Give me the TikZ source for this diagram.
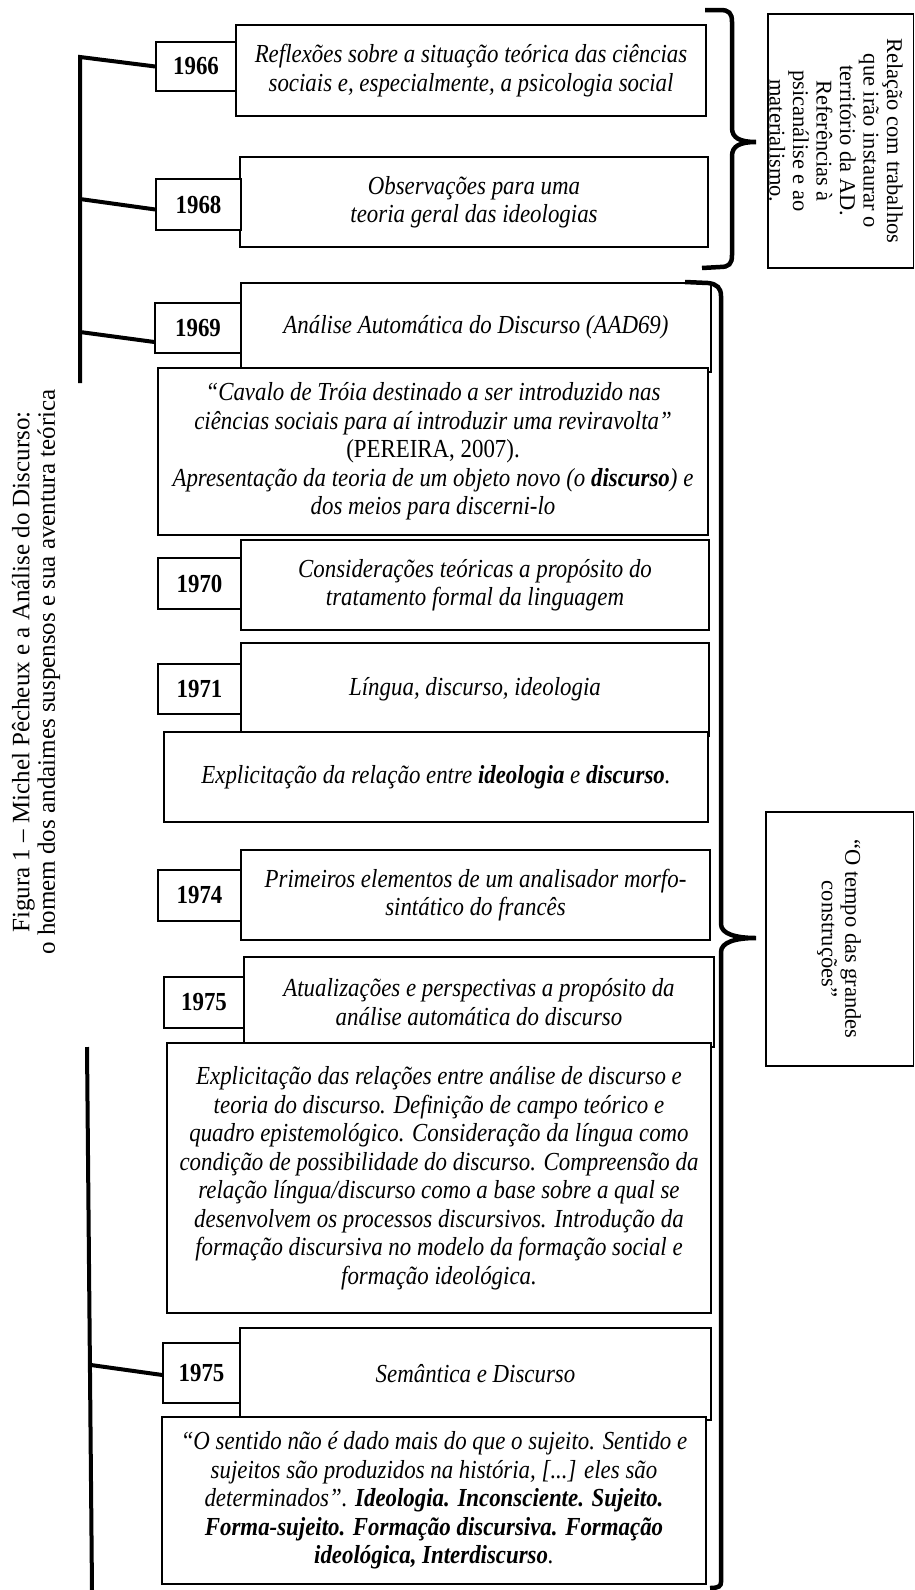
\documentclass[tikz,border=0pt]{standalone}
\usepackage{fontspec}
\setmainfont{Liberation Serif}[FakeStretch=0.88]
\newfontfamily\plainserif{Liberation Serif}
\newcommand\bx[7]{\node[#6, minimum width={(#4-#2)*1pt}, minimum height={(#5-#3)*1pt}] (#1) at ({(#2+#4)/2},{(#3+#5)/2}) {#7};}
\begin{document}
\begin{tikzpicture}[x=1pt,y=-1pt,
  descbox/.style={draw, line width=1.3pt, fill=white, inner sep=0pt, align=center, font=\fontsize{26}{28.5}\selectfont\itshape},
  yearbox/.style={draw, line width=1.3pt, fill=white, inner sep=0pt, font=\fontsize{26}{28}\selectfont\bfseries},
  sidebox/.style={draw, line width=1.3pt, fill=white, inner sep=0pt},
  sidetext/.style={rotate=-90, align=center, inner sep=0pt, font=\plainserif\fontsize{22.5}{23.5}\selectfont},
  captext/.style={rotate=90, align=center, inner sep=0pt, font=\plainserif\fontsize{25}{25.5}\selectfont},
  tline/.style={line width=4pt},
  bracepath/.style={line width=4.5pt}]
\useasboundingbox (0,0) rectangle (915,1590);

% description boxes
\bx{d66}{236}{25}{706}{116}{descbox}{Reflexões sobre a situação teórica das ciências\\sociais e, especialmente, a psicologia social}
\bx{y66}{156}{42}{236}{91}{yearbox}{1966}
\bx{d68}{240}{157}{708}{247}{descbox}{Observações para uma\\teoria geral das ideologias}
\bx{y68}{156}{179}{241}{230}{yearbox}{1968}
\bx{d69}{241}{283}{711}{372}{descbox}{Análise Automática do Discurso (AAD69)}
\bx{y69}{155}{303}{241}{353}{yearbox}{1969}
\bx{c69}{158}{368}{708}{535}{descbox}{“Cavalo de Tróia destinado a ser introduzido nas\\ciências sociais para aí introduzir uma reviravolta”\\{\upshape(PEREIRA, 2007).}\\Apresentação da teoria de um objeto novo (o \textbf{discurso}) e\\dos meios para discerni-lo}
\bx{d70}{241}{540}{709}{630}{descbox}{Considerações teóricas a propósito do\\tratamento formal da linguagem}
\bx{y70}{158}{558}{241}{609}{yearbox}{1970}
\bx{d71}{241}{643}{709}{736}{descbox}{Língua, discurso, ideologia}
\bx{y71}{158}{664}{241}{714}{yearbox}{1971}
\bx{e71}{164}{732}{708}{822}{descbox}{Explicitação da relação entre \textbf{ideologia} e \textbf{discurso}.}
\bx{d74}{241}{850}{710}{940}{descbox}{Primeiros elementos de um analisador morfo-\\sintático do francês}
\bx{y74}{158}{870}{241}{921}{yearbox}{1974}
\bx{d75}{244}{957}{714}{1047}{descbox}{Atualizações e perspectivas a propósito da\\análise automática do discurso}
\bx{y75}{164}{977}{244}{1028}{yearbox}{1975}
\bx{e75}{167}{1043}{711}{1313}{descbox}{Explicitação das relações entre análise de discurso e\\teoria do discurso. Definição de campo teórico e\\quadro epistemológico. Consideração da língua como\\condição de possibilidade do discurso. Compreensão da\\relação língua/discurso como a base sobre a qual se\\desenvolvem os processos discursivos. Introdução da\\formação discursiva no modelo da formação social e\\formação ideológica.}
\bx{d75b}{240}{1328}{711}{1420}{descbox}{Semântica e Discurso}
\bx{y75b}{163}{1343}{240}{1403}{yearbox}{1975}
\bx{e75b}{162}{1417}{706}{1584}{descbox}{“O sentido não é dado mais do que o sujeito. Sentido e\\sujeitos são produzidos na história, [...] eles são\\determinados”. \textbf{Ideologia. Inconsciente. Sujeito.}\\\textbf{Forma-sujeito. Formação discursiva. Formação}\\\textbf{ideológica, Interdiscurso}.}

% side boxes
\bx{rb1}{768}{14}{913.5}{268}{sidebox}{}
\node[sidetext] (rb1t) at (836,141) {Relação com trabalhos\\que irão instaurar o\\território da AD.\\Referências à\\psicanálise e ao\\materialismo.};
\bx{rb2}{766}{812}{913.5}{1066}{sidebox}{}
\node[sidetext] (rb2t) at (839,939) {“O tempo das grandes\\construções”};

% caption
\node[captext] (cap) at (36,672) {Figura 1 – Michel Pêcheux e a Análise do Discurso:\\o homem dos andaimes suspensos e sua aventura teórica};

% timelines
\coordinate (ta) at (80,57);
\coordinate (tb) at (80,383);
\coordinate (tc) at (80,199);
\coordinate (td) at (80,332);
\draw[tline] (y66.west) -- (ta) -- (tb);
\draw[tline] (tc) -- ([yshift=-5pt]y68.west);
\draw[tline] (td) -- ([yshift=-14pt]y69.west);
\coordinate (te) at (87,1047);
\coordinate (tf) at (92,1590);
\coordinate (tg) at (91,1365);
\draw[tline] (te) -- (tf);
\draw[tline] (tg) -- ([yshift=-2pt]y75b.west);

% braces
\coordinate (b1a) at (705,10);
\coordinate (b1tip) at (756,142);
\coordinate (b1b) at (702,268);
\draw[bracepath] (b1a) -- (720,10) .. controls (729,10) and (732,13) .. (732,22) -- (732,128) .. controls (732,138) and (740,142) .. (b1tip) .. controls (740,142) and (732,146) .. (732,156) -- (732,255) .. controls (732,264) and (729,267) .. (720,267) -- (b1b);
\coordinate (b2a) at (685,282);
\coordinate (b2tip) at (756,938);
\coordinate (b2b) at (710,1588);
\draw[bracepath] (b2a) -- (708,283) .. controls (717,284) and (721,288) .. (721,296) -- (721,924) .. controls (721,934) and (736,938) .. (b2tip) .. controls (736,938) and (721,942) .. (721,952) -- (721,1582) .. controls (721,1586) and (719,1588) .. (b2b);
\end{tikzpicture}
\end{document}
